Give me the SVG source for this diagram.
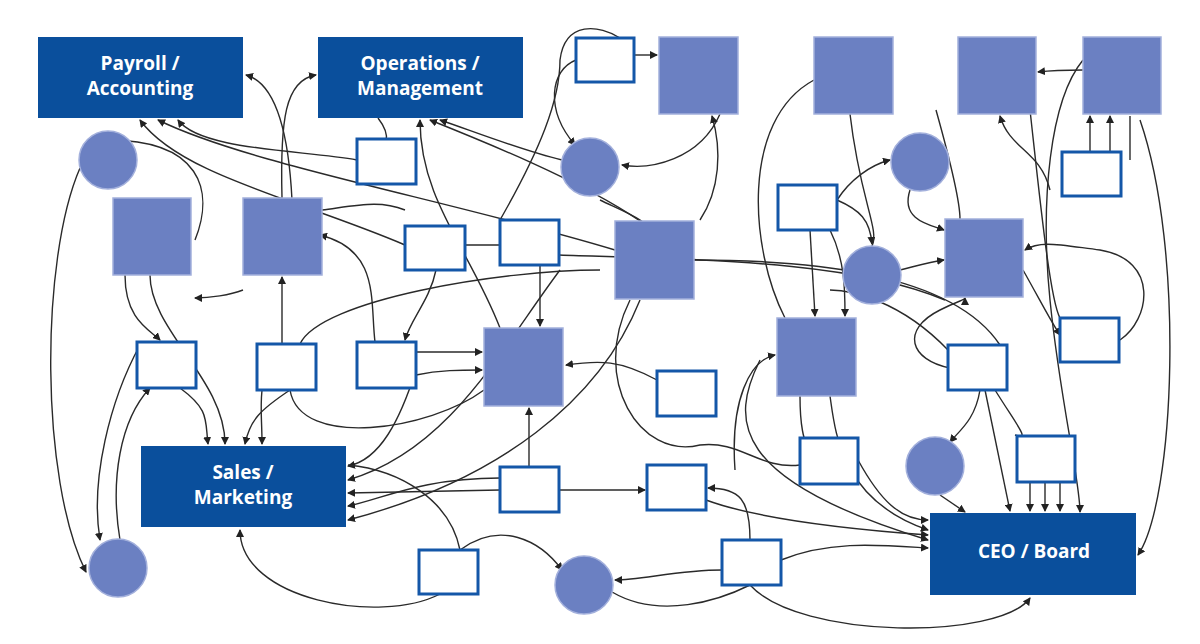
<svg xmlns="http://www.w3.org/2000/svg" width="1200" height="644" viewBox="0 0 1200 644">
<defs>
<marker id="a" markerWidth="8" markerHeight="8" refX="7" refY="4" orient="auto" markerUnits="userSpaceOnUse"><path d="M0,0 L8,4 L0,8 z" fill="#222"/></marker>
<style>
.big{fill:#0a4f9c}
.lbl{font-family:"Open Sans","Liberation Sans",sans-serif;font-weight:bold;font-size:19px;fill:#fff;text-anchor:middle}
.sq{fill:#6b80c2;stroke:#a3b0dc;stroke-width:1.5}
.wb{fill:#fff;stroke:#1457a8;stroke-width:3}
#conn path{fill:none;stroke:#2a2a2a;stroke-width:1.4;marker-end:url(#a)}
#conn path.n{marker-end:none}
</style>
</defs>
<rect width="1200" height="644" fill="#fff"/>
<g id="conn">
<path d="M357,160 C300,150 200,150 178,120"/>
<path d="M615,250 C450,200 250,165 158,120"/>
<path d="M405,245 C300,200 180,175 140,120"/>
<path d="M282,198 C280,120 285,80 316,75"/>
<path d="M292,200 C288,120 272,82 246,75"/>
<path d="M80,168 C40,260 40,480 86,572"/>
<path d="M120,540 C110,480 120,420 150,388"/>
<path d="M140,345 C110,400 90,480 100,540"/>
<path d="M195,240 C215,190 200,140 108,140" class="n"/>
<path d="M562,160 C520,150 470,130 440,120"/>
<path d="M640,221 C580,180 480,140 430,120"/>
<path d="M500,328 C470,250 420,200 420,120"/>
<path d="M378,118 C395,140 380,150 386,139" class="n"/>
<path d="M576,60 C550,70 545,110 575,145"/>
<path d="M720,114 C700,160 650,170 622,165"/>
<path d="M634,55 L657,55"/>
<path d="M700,220 C720,190 722,150 712,116"/>
<path d="M500,220 C540,150 560,100 560,60 C565,20 600,25 620,38" class="n"/>
<path d="M322,210 C360,205 380,200 405,210" class="n"/>
<path d="M465,245 L500,245" class="n"/>
<path d="M559,255 C700,260 850,260 945,300" class="n"/>
<path d="M694,260 C800,260 950,270 1000,345" class="n"/>
<path d="M180,388 C210,410 205,420 208,444"/>
<path d="M150,275 C150,330 225,380 225,444"/>
<path d="M290,390 C260,410 250,420 245,444"/>
<path d="M300,344 C320,300 500,270 600,270" class="n"/>
<path d="M262,390 C260,410 262,420 262,444"/>
<path d="M282,344 L282,277"/>
<path d="M243,290 C230,295 210,298 195,298"/>
<path d="M125,275 C125,320 150,330 160,340"/>
<path d="M500,490 L348,493"/>
<path d="M500,478 C420,478 380,500 348,506"/>
<path d="M416,370 C400,420 380,460 348,466"/>
<path d="M560,270 C500,350 450,450 348,480"/>
<path d="M640,300 C600,400 500,480 348,520"/>
<path d="M460,550 C450,500 400,470 348,465" class="n"/>
<path d="M440,594 C380,625 240,600 240,530"/>
<path d="M529,467 L529,408"/>
<path d="M559,490 L645,490"/>
<path d="M750,540 C750,500 740,488 708,488"/>
<path d="M460,550 C500,520 540,540 562,570"/>
<path d="M722,570 C680,570 640,580 615,580"/>
<path d="M612,592 C660,620 720,600 750,585" class="n"/>
<path d="M416,352 L482,352"/>
<path d="M416,375 C440,370 460,370 482,370"/>
<path d="M657,380 C620,360 600,360 566,365"/>
<path d="M540,265 L540,326"/>
<path d="M436,270 C430,300 410,320 405,340"/>
<path d="M375,342 C370,300 380,250 320,235"/>
<path d="M290,390 C300,450 430,430 484,390" class="n"/>
<path d="M630,300 C590,380 640,460 700,445 C740,440 760,470 800,465" class="n"/>
<path d="M810,230 L815,316"/>
<path d="M830,230 C845,260 845,290 845,316"/>
<path d="M837,200 C860,210 870,220 872,244"/>
<path d="M837,200 C850,180 870,165 890,160"/>
<path d="M910,190 C900,220 930,225 944,230"/>
<path d="M900,270 C920,265 930,262 944,260"/>
<path d="M850,114 C860,200 880,230 872,246" class="n"/>
<path d="M814,80 C740,120 750,250 785,318" class="n"/>
<path d="M1090,152 L1090,116"/>
<path d="M1110,152 L1110,116"/>
<path d="M1130,160 L1130,116" class="n"/>
<path d="M1050,190 C1040,150 1010,150 1000,116"/>
<path d="M1083,70 C1070,70 1055,70 1038,72"/>
<path d="M1140,120 C1185,250 1175,500 1138,555"/>
<path d="M1023,270 C1040,300 1050,320 1060,335"/>
<path d="M1120,340 C1150,320 1160,260 1100,250 C1060,245 1040,240 1025,250"/>
<path d="M1083,60 C1050,100 1040,200 1050,300 C1060,400 1080,480 1080,512"/>
<path d="M1030,110 C1040,200 1050,300 1060,318" class="n"/>
<path d="M980,390 C975,420 960,430 950,442"/>
<path d="M940,495 L965,512"/>
<path d="M1030,482 L1030,511"/>
<path d="M1045,482 L1045,511"/>
<path d="M1060,482 L1060,511"/>
<path d="M985,390 L1010,511"/>
<path d="M995,390 C1020,430 1030,440 1015,435" class="n"/>
<path d="M950,368 C910,360 900,330 940,310 C960,300 965,300 965,298" />
<path d="M948,350 C900,300 850,290 830,290" class="n"/>
<path d="M735,470 C730,400 750,360 775,355"/>
<path d="M830,396 C835,430 840,500 928,530"/>
<path d="M800,396 C800,430 805,440 805,440" class="n"/>
<path d="M858,460 C880,500 900,520 928,520"/>
<path d="M760,360 C730,420 730,480 928,540"/>
<path d="M781,560 C830,540 880,545 928,548"/>
<path d="M706,500 C760,520 860,530 928,535"/>
<path d="M750,585 C800,640 1000,640 1030,598"/>
<path d="M600,200 C620,210 650,220 660,240" class="n"/>
<path d="M936,110 C950,160 960,200 960,219" class="n"/>
</g>
<g id="payroll"><rect class="big" x="38" y="37" width="205" height="81"/><text class="lbl" x="140" y="70">Payroll /</text><text class="lbl" x="140" y="95">Accounting</text></g>
<g id="ops"><rect class="big" x="318" y="37" width="205" height="81"/><text class="lbl" x="420" y="70">Operations /</text><text class="lbl" x="420" y="95">Management</text></g>
<g id="sales"><rect class="big" x="141" y="446" width="205" height="81"/><text class="lbl" x="243" y="479">Sales /</text><text class="lbl" x="243" y="504">Marketing</text></g>
<g id="ceo"><rect class="big" x="930" y="513" width="206" height="82"/><text class="lbl" x="1034" y="558">CEO / Board</text></g>
<g id="sq1"><rect class="sq" x="659" y="37" width="79" height="77"/></g>
<g id="sq2"><rect class="sq" x="814" y="37" width="79" height="77"/></g>
<g id="sq3"><rect class="sq" x="958" y="37" width="78" height="77"/></g>
<g id="sq4"><rect class="sq" x="1083" y="37" width="78" height="77"/></g>
<g id="sq5"><rect class="sq" x="113" y="198" width="78" height="77"/></g>
<g id="sq6"><rect class="sq" x="243" y="198" width="79" height="77"/></g>
<g id="sq7"><rect class="sq" x="615" y="221" width="79" height="78"/></g>
<g id="sq8"><rect class="sq" x="945" y="219" width="78" height="78"/></g>
<g id="sq9"><rect class="sq" x="484" y="328" width="79" height="78"/></g>
<g id="sq10"><rect class="sq" x="777" y="318" width="79" height="78"/></g>
<g id="c1"><circle class="sq" cx="108" cy="160" r="29"/></g>
<g id="c2"><circle class="sq" cx="590" cy="167" r="29"/></g>
<g id="c3"><circle class="sq" cx="920" cy="162" r="29"/></g>
<g id="c4"><circle class="sq" cx="872" cy="275" r="29"/></g>
<g id="c5"><circle class="sq" cx="935" cy="466" r="29"/></g>
<g id="c6"><circle class="sq" cx="118" cy="568" r="29"/></g>
<g id="c7"><circle class="sq" cx="584" cy="585" r="29"/></g>
<g id="w1"><rect class="wb" x="576" y="38" width="58" height="44"/></g>
<g id="w2"><rect class="wb" x="357" y="139" width="59" height="45"/></g>
<g id="w3"><rect class="wb" x="405" y="226" width="60" height="44"/></g>
<g id="w4"><rect class="wb" x="500" y="220" width="59" height="45"/></g>
<g id="w5"><rect class="wb" x="778" y="185" width="59" height="45"/></g>
<g id="w6"><rect class="wb" x="1062" y="152" width="59" height="44"/></g>
<g id="w7"><rect class="wb" x="137" y="342" width="59" height="46"/></g>
<g id="w8"><rect class="wb" x="257" y="344" width="59" height="46"/></g>
<g id="w9"><rect class="wb" x="357" y="342" width="59" height="46"/></g>
<g id="w10"><rect class="wb" x="657" y="371" width="59" height="45"/></g>
<g id="w11"><rect class="wb" x="948" y="345" width="59" height="45"/></g>
<g id="w12"><rect class="wb" x="1060" y="318" width="59" height="44"/></g>
<g id="w13"><rect class="wb" x="800" y="438" width="58" height="46"/></g>
<g id="w14"><rect class="wb" x="1017" y="436" width="58" height="46"/></g>
<g id="w15"><rect class="wb" x="500" y="467" width="59" height="45"/></g>
<g id="w16"><rect class="wb" x="647" y="465" width="59" height="45"/></g>
<g id="w17"><rect class="wb" x="419" y="550" width="59" height="44"/></g>
<g id="w18"><rect class="wb" x="722" y="540" width="59" height="45"/></g>
</svg>
